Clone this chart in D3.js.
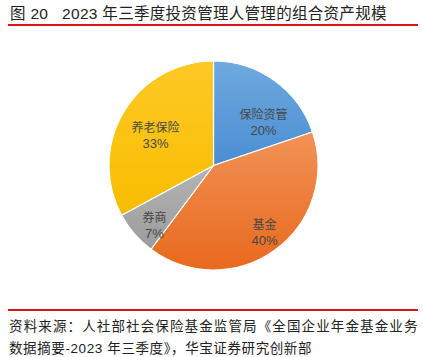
<!DOCTYPE html>
<html><head><meta charset="utf-8">
<script src="https://cdn.jsdelivr.net/npm/d3@7"></script>
<style>
body{margin:0;background:#fff;}
svg{display:block;font-family:"Liberation Sans","Noto Sans CJK SC",sans-serif;}
</style></head><body>
<svg id="c" width="423" height="357"></svg>
<script>
const categories = ["保险资管","基金","券商","养老保险"];
const values = [19.8, 40.4, 6.9, 32.9];
const pctLabels = ["20%","40%","7%","33%"];
const colorsTop = ["#6fa9df","#f29258","#b4b4b4","#fec925"];
const colorsBot = ["#4a8ed2","#e8691c","#9c9c9c","#f8bd00"];
const titleText = "图 20\u00a0\u00a0\u00a02023 年三季度投资管理人管理的组合资产规模";
const sourceLines = ["资料来源：人社部社会保险基金监管局《全国企业年金基金业务","数据摘要-2023 年三季度》，华宝证券研究创新部"];

const svg = d3.select("#c");
const defs = svg.append("defs");
categories.forEach((c,i)=>{
  const g = defs.append("linearGradient").attr("id","g"+i).attr("x1",0).attr("y1",0).attr("x2",0).attr("y2",1);
  g.append("stop").attr("offset","0%").attr("stop-color",colorsTop[i]);
  g.append("stop").attr("offset","100%").attr("stop-color",colorsBot[i]);
});

svg.append("text").attr("x",10).attr("y",19).attr("font-size",15.5).attr("fill","#222")
  .attr("letter-spacing",0.3).text(titleText);
svg.append("line").attr("x1",8).attr("x2",418).attr("y1",25).attr("y2",25).attr("stroke","#d9151b").attr("stroke-width",2.2);

const cx=213.5, cy=165.5, r=104.5;
const pie = d3.pie().sort(null).value(d=>d)(values);
const arc = d3.arc().innerRadius(0).outerRadius(r);
const g = svg.append("g").attr("transform",`translate(${cx},${cy})`);
g.selectAll("path").data(pie).join("path")
  .attr("d",arc).attr("fill",(d,i)=>`url(#g${i})`).attr("stroke","#fff").attr("stroke-width",1.2);

const labelPos = [[50,-47],[51,63],[-59,56],[-58,-34]];
pie.forEach((d,i)=>{
  const t = g.append("text").attr("text-anchor","middle").attr("fill","#474747").attr("font-size",13);
  t.append("tspan").attr("x",labelPos[i][0]).attr("y",labelPos[i][1]).attr("font-family","Noto Sans CJK SC").attr("font-size",12).text(categories[i]);
  t.append("tspan").attr("x",labelPos[i][0]).attr("y",labelPos[i][1]+16).text(pctLabels[i]);
});

svg.append("line").attr("x1",8).attr("x2",418).attr("y1",310).attr("y2",310).attr("stroke","#d9151b").attr("stroke-width",2.2);
sourceLines.forEach((s,i)=>{
  const t = svg.append("text").attr("x",9).attr("y",331+i*22).attr("font-size",13.5).attr("fill","#222")
    .attr("letter-spacing",0.6).text(s);
  if(i===0) t.attr("textLength",409).attr("lengthAdjust","spacing");
});
</script></body></html>
